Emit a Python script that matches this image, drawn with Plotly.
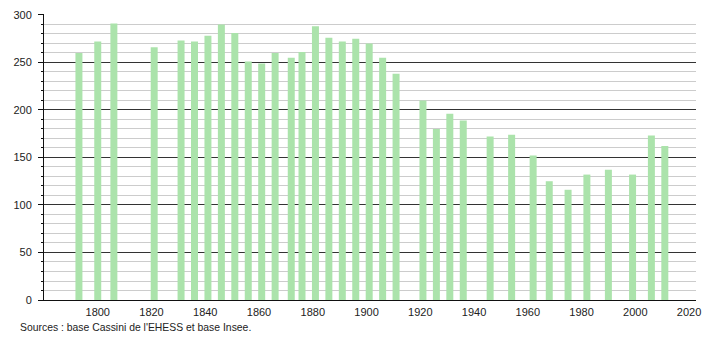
import plotly.graph_objects as go

years = [1793, 1800, 1806, 1821, 1831, 1836, 1841, 1846, 1851, 1856, 1861, 1866,
         1872, 1876, 1881, 1886, 1891, 1896, 1901, 1906, 1911, 1921, 1926, 1931,
         1936, 1946, 1954, 1962, 1968, 1975, 1982, 1990, 1999, 2006, 2011]
population = [260, 272, 291, 266, 273, 272, 278, 290, 281, 251, 249, 260,
              255, 261, 288, 276, 272, 275, 270, 255, 238, 210, 180, 196,
              189, 172, 174, 152, 125, 116, 132, 137, 132, 173, 162]
x_ticks = [1800, 1820, 1840, 1860, 1880, 1900, 1920, 1940, 1960, 1980, 2000, 2020]
y_ticks = [0, 50, 100, 150, 200, 250, 300]
source_text = "Sources : base Cassini de l'EHESS et base Insee."

fig = go.Figure()
fig.add_trace(go.Bar(
    x=years, y=population, width=2.6,
    marker=dict(color="#abe3ab", line=dict(width=0)),
    hoverinfo="x+y",
))

font = "Liberation Sans, Arial, sans-serif"
fig.update_layout(
    width=710, height=340,
    margin=dict(l=44, r=9, t=10, b=40),
    paper_bgcolor="white", plot_bgcolor="white",
    showlegend=False,
    font=dict(family=font, size=11, color="#222"),
    xaxis=dict(
        range=[1780, 2022.6], tickvals=x_ticks, ticks="", showgrid=False,
        showline=True, linecolor="#111", linewidth=1, zeroline=False,
        tickfont=dict(size=11, color="#222"), ticklabelstandoff=2,
    ),
    yaxis=dict(
        range=[0, 301], tickvals=y_ticks, showgrid=True, gridcolor="#333",
        gridwidth=1, ticks="outside", ticklen=5, tickcolor="#111",
        showline=True, linecolor="#111", linewidth=1, zeroline=False,
        tickfont=dict(size=11, color="#222"), ticklabelstandoff=4,
        minor=dict(dtick=10, showgrid=True, gridcolor="#cccccc", gridwidth=1,
                   ticks="outside", ticklen=2, tickcolor="#111"),
    ),
    annotations=[dict(
        text=source_text, xref="paper", yref="paper", x=-26/657, y=-28/290,
        xanchor="left", yanchor="middle", showarrow=False,
        font=dict(family=font, size=10.4, color="#222"),
    )],
)

fig.write_html("out.html")
